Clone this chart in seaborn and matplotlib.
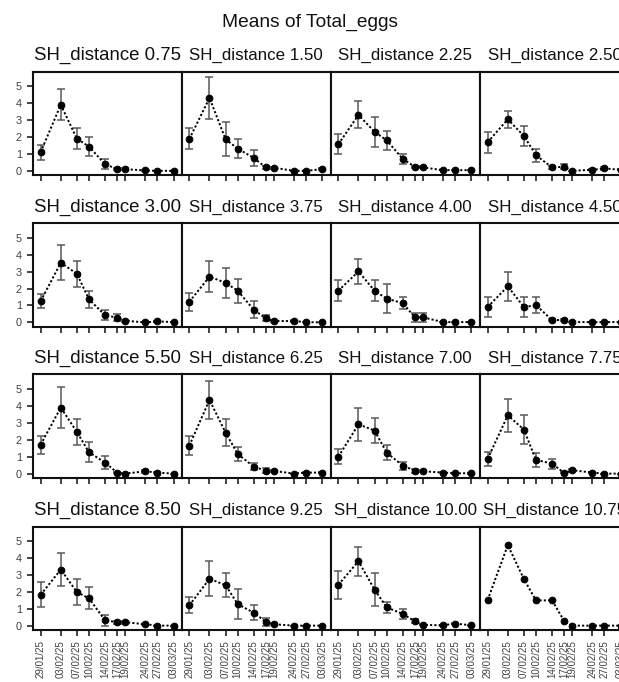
import numpy as np
import pandas as pd
import matplotlib
matplotlib.use("Agg")
import matplotlib.pyplot as plt
import seaborn as sns

# Sampling dates and the SH_distance groups (4 x 4 panels)
dates = ["29/01/25", "03/02/25", "07/02/25", "10/02/25", "14/02/25",
         "17/02/25", "19/02/25", "24/02/25", "27/02/25", "03/03/25"]
distances = ["0.75", "1.50", "2.25", "2.50",
             "3.00", "3.75", "4.00", "4.50",
             "5.50", "6.25", "7.00", "7.75",
             "8.50", "9.25", "10.00", "10.75"]

# Mean number of eggs per date, one list per distance
mean_0_75 = [1.10, 3.90, 1.90, 1.43, 0.39, 0.10, 0.10, 0.02, 0.00, 0.00]
mean_1_50 = [1.88, 4.30, 1.86, 1.31, 0.76, 0.20, 0.18, 0.00, 0.00, 0.10]
mean_2_25 = [1.57, 3.30, 2.30, 1.80, 0.70, 0.24, 0.20, 0.04, 0.04, 0.04]
mean_2_50 = [1.69, 3.04, 2.06, 0.92, 0.20, 0.24, 0.00, 0.06, 0.14, 0.06]
mean_3_00 = [1.26, 3.52, 2.87, 1.36, 0.43, 0.28, 0.10, 0.00, 0.06, 0.02]
mean_3_75 = [1.22, 2.70, 2.34, 1.87, 0.75, 0.24, 0.08, 0.08, 0.02, 0.00]
mean_4_00 = [1.87, 3.01, 1.87, 1.40, 1.14, 0.30, 0.30, 0.02, 0.02, 0.02]
mean_4_50 = [0.91, 2.13, 0.91, 1.02, 0.14, 0.14, 0.02, 0.02, 0.02, 0.02]
mean_5_50 = [1.71, 3.90, 2.46, 1.26, 0.65, 0.06, 0.00, 0.14, 0.06, 0.00]
mean_6_25 = [1.65, 4.35, 2.42, 1.16, 0.41, 0.18, 0.16, 0.00, 0.06, 0.06]
mean_7_00 = [1.00, 2.91, 2.54, 1.24, 0.47, 0.18, 0.14, 0.06, 0.02, 0.02]
mean_7_75 = [0.87, 3.44, 2.60, 0.81, 0.59, 0.04, 0.20, 0.06, 0.00, 0.00]
mean_8_50 = [1.82, 3.31, 1.98, 1.61, 0.31, 0.20, 0.20, 0.08, 0.00, 0.00]
mean_9_25 = [1.20, 2.76, 2.39, 1.27, 0.76, 0.22, 0.08, 0.00, 0.00, 0.00]
mean_10_00 = [2.41, 3.80, 2.12, 1.08, 0.69, 0.25, 0.04, 0.02, 0.12, 0.02]
mean_10_75 = [1.51, 4.75, 2.75, 1.49, 1.49, 0.27, 0.00, 0.00, 0.00, 0.00]

# Standard errors of the means (none available for 10.75)
se_0_75 = [0.45, 0.90, 0.60, 0.56, 0.30, 0.05, 0.05, 0.02, 0.00, 0.00]
se_1_50 = [0.62, 1.23, 1.00, 0.54, 0.45, 0.10, 0.05, 0.00, 0.00, 0.05]
se_2_25 = [0.58, 0.80, 0.87, 0.55, 0.32, 0.06, 0.06, 0.02, 0.02, 0.02]
se_2_50 = [0.62, 0.49, 0.59, 0.38, 0.08, 0.14, 0.00, 0.04, 0.10, 0.04]
se_3_00 = [0.43, 1.04, 0.75, 0.48, 0.29, 0.19, 0.05, 0.00, 0.04, 0.02]
se_3_75 = [0.52, 0.92, 0.89, 0.71, 0.51, 0.17, 0.05, 0.05, 0.02, 0.00]
se_4_00 = [0.63, 0.73, 0.63, 0.87, 0.37, 0.25, 0.25, 0.02, 0.02, 0.02]
se_4_50 = [0.61, 0.87, 0.59, 0.49, 0.04, 0.05, 0.02, 0.02, 0.02, 0.02]
se_5_50 = [0.54, 1.20, 0.76, 0.58, 0.37, 0.04, 0.00, 0.10, 0.04, 0.00]
se_6_25 = [0.55, 1.14, 0.81, 0.44, 0.22, 0.13, 0.05, 0.00, 0.04, 0.04]
se_7_00 = [0.45, 0.97, 0.73, 0.42, 0.24, 0.12, 0.05, 0.04, 0.02, 0.02]
se_7_75 = [0.40, 0.98, 0.87, 0.40, 0.30, 0.03, 0.10, 0.04, 0.00, 0.00]
se_8_50 = [0.74, 1.00, 0.78, 0.65, 0.31, 0.10, 0.10, 0.04, 0.00, 0.00]
se_9_25 = [0.46, 1.03, 0.73, 0.90, 0.45, 0.22, 0.05, 0.00, 0.00, 0.00]
se_10_00 = [0.81, 0.85, 0.96, 0.33, 0.31, 0.12, 0.02, 0.02, 0.05, 0.02]
se_10_75 = [np.nan] * 10

y_ticks = [0, 1, 2, 3, 4, 5]

means = [mean_0_75, mean_1_50, mean_2_25, mean_2_50,
         mean_3_00, mean_3_75, mean_4_00, mean_4_50,
         mean_5_50, mean_6_25, mean_7_00, mean_7_75,
         mean_8_50, mean_9_25, mean_10_00, mean_10_75]
ses = [se_0_75, se_1_50, se_2_25, se_2_50,
       se_3_00, se_3_75, se_4_00, se_4_50,
       se_5_50, se_6_25, se_7_00, se_7_75,
       se_8_50, se_9_25, se_10_00, se_10_75]

# Long table: x is days since the first sampling date
when = pd.to_datetime(dates, format="%d/%m/%y")
day = (when - when[0]).days.to_numpy()
frames = []
for d, m, s in zip(distances, means, ses):
    frames.append(pd.DataFrame({"SH_distance": d, "day": day,
                                "date": dates, "mean": m, "se": s}))
df = pd.concat(frames, ignore_index=True)

sns.set_theme(style="ticks")
plt.rcParams["font.family"] = ["Liberation Sans", "DejaVu Sans"]

W, H = 619, 682
fig = plt.figure(figsize=(W / 100, H / 100), dpi=100)
fig.patch.set_facecolor("white")

col_left = [33, 181.7, 330.7, 480]
row_top = [71.7, 223.3, 374.5, 526.5]
panel_w, panel_h = 149, 103.7

for i, dist in enumerate(distances):
    r, c = divmod(i, 4)
    ax = fig.add_axes([col_left[c] / W, 1 - (row_top[r] + panel_h) / H,
                       panel_w / W, panel_h / H])
    sub = df[df["SH_distance"] == dist]

    ax.errorbar(sub["day"], sub["mean"], yerr=sub["se"], fmt="none",
                ecolor="#595959", elinewidth=1.1, capsize=2.7,
                capthick=1.1, zorder=2)
    sns.lineplot(data=sub, x="day", y="mean", ax=ax, color="black",
                 linestyle=(0, (1.1, 1.1)), linewidth=1.4, marker="o",
                 markersize=4.8, markeredgecolor="black", zorder=3,
                 errorbar=None, legend=False)

    ax.set_xlim(day[0] - 1.9, day[-1] + 2.1)
    ax.set_ylim(-0.27, 5.85)
    ax.set_xlabel("")
    ax.set_ylabel("")
    ax.set_facecolor("white")

    for side in ["left", "right", "top", "bottom"]:
        ax.spines[side].set_visible(True)
        ax.spines[side].set_color("#111111")
        ax.spines[side].set_linewidth(1.5)

    ax.set_xticks(day)
    if r == 3:
        ax.set_xticklabels(dates, rotation=90, fontsize=7.0, color="#404040")
    else:
        ax.set_xticklabels([])
    ax.tick_params(axis="x", length=4.5, width=1.2, pad=2.5,
                   color="#222222")

    if c == 0:
        ax.set_yticks(y_ticks)
        ax.set_yticklabels([str(v) for v in y_ticks], fontsize=7.8,
                           color="#404040")
        ax.tick_params(axis="y", length=4, width=1.2, pad=4.0,
                       color="#222222")
    else:
        ax.set_yticks([])

    ax.set_title(f"SH_distance {dist}", fontsize=13.4 if c == 0 else 12.2,
                 color="#111111", pad=8.5)

fig.text(0.5, 1 - 27 / H, "Means of Total_eggs", ha="center",
         va="baseline", fontsize=13.8, color="#111111")

fig.savefig("out.png", dpi=100, facecolor="white")
